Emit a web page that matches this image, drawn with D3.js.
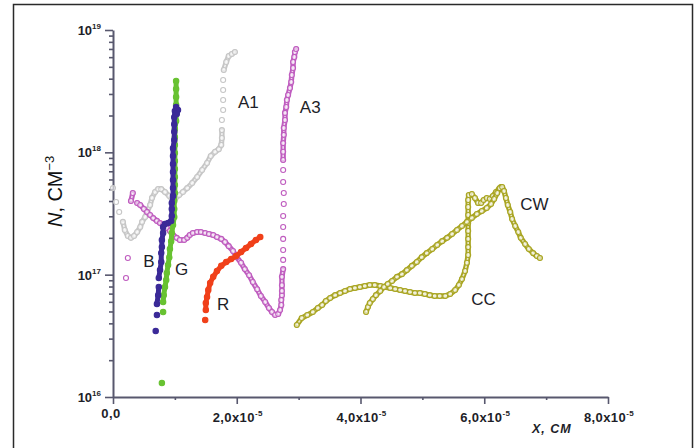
<!DOCTYPE html>
<html>
<head>
<meta charset="utf-8">
<script src="https://cdn.jsdelivr.net/npm/d3@7"></script>
<style>
  body { margin: 0; background: #fff; }
  svg { display: block; font-family: "Liberation Sans", Arial, sans-serif; }
</style>
</head>
<body>
<svg id="chart" width="696" height="448"></svg>
<script>
// x values are in units of 1e-5 cm, N in cm^-3
var X_UNIT = 1e-5;

var seriesA1 = [
  [0.00, 5.1e17], [0.05, 3.93e17], [0.10, 3.25e17], [0.16, 2.70e17], [0.19, 2.32e17],
  [0.24, 2.07e17], [0.29, 2.0e17], [0.34, 2.07e17], [0.39, 2.23e17], [0.44, 2.45e17],
  [0.47, 2.70e17], [0.52, 2.96e17], [0.55, 3.25e17], [0.60, 3.71e17], [0.63, 4.24e17],
  [0.68, 4.74e17], [0.73, 5.01e17], [0.78, 5.0e17], [0.84, 4.74e17], [0.91, 4.40e17],
  [0.95, 4.16e17], [1.00, 4.16e17], [1.07, 4.48e17], [1.13, 4.74e17], [1.20, 5.1e17],
  [1.28, 5.61e17], [1.36, 6.29e17], [1.44, 7.17e17], [1.52, 8.18e17], [1.58, 9.33e17],
  [1.65, 1.01e18], [1.71, 1.06e18], [1.75, 1.15e18], [1.76, 1.31e18], [1.76, 1.52e18],
  [1.76, 1.84e18], [1.78, 2.22e18], [1.78, 2.68e18], [1.78, 3.23e18], [1.78, 3.90e18],
  [1.79, 4.71e18], [1.83, 5.47e18], [1.87, 6.13e18], [1.92, 6.36e18], [1.97, 6.61e18]
];

var seriesA3 = [
  [0.21, 9.4e16], [0.24, 1.37e17], [0.29, 4.0e17], [0.32, 4.65e17], [0.39, 3.85e17],
  [0.44, 3.71e17], [0.50, 3.44e17], [0.55, 3.25e17], [0.60, 3.07e17], [0.65, 2.90e17],
  [0.71, 2.75e17], [0.76, 2.64e17], [0.81, 2.55e17], [0.87, 2.41e17], [0.92, 2.28e17],
  [0.97, 2.11e17], [1.03, 2.0e17], [1.08, 1.92e17], [1.15, 1.92e17], [1.20, 2.0e17],
  [1.24, 2.11e17], [1.29, 2.19e17], [1.36, 2.23e17], [1.42, 2.23e17], [1.49, 2.19e17],
  [1.55, 2.15e17], [1.62, 2.11e17], [1.68, 2.03e17], [1.75, 1.96e17], [1.81, 1.85e17],
  [1.87, 1.71e17], [1.94, 1.56e17], [2.00, 1.39e17], [2.07, 1.25e17], [2.13, 1.11e17],
  [2.20, 9.9e16], [2.26, 8.7e16], [2.33, 7.6e16], [2.39, 6.7e16], [2.46, 5.98e16],
  [2.52, 5.34e16], [2.57, 4.95e16], [2.62, 4.68e16], [2.67, 4.77e16], [2.70, 5.14e16],
  [2.72, 5.65e16], [2.72, 6.2e16], [2.73, 6.8e16], [2.73, 7.35e16], [2.73, 8.2e16],
  [2.73, 9.6e16], [2.75, 1.11e17], [2.75, 1.32e17], [2.75, 1.59e17], [2.75, 1.96e17],
  [2.75, 2.45e17], [2.75, 3.02e17], [2.76, 3.78e17], [2.76, 4.65e17], [2.75, 5.72e17],
  [2.75, 7.17e17], [2.75, 8.65e17], [2.75, 1.01e18], [2.75, 1.19e18], [2.76, 1.39e18],
  [2.76, 1.58e18], [2.78, 1.84e18], [2.78, 2.10e18], [2.80, 2.35e18], [2.81, 2.68e18],
  [2.83, 2.94e18], [2.86, 3.36e18], [2.88, 3.76e18], [2.89, 4.29e18], [2.91, 4.89e18],
  [2.91, 5.47e18], [2.93, 6.02e18], [2.94, 6.61e18], [2.96, 7.0e18]
];

var seriesB = [
  [0.69, 3.46e16], [0.71, 4.68e16], [0.71, 5.75e16], [0.73, 6.8e16], [0.74, 7.93e16],
  [0.74, 9.4e16], [0.76, 1.09e17], [0.78, 1.27e17], [0.78, 1.50e17], [0.79, 1.68e17],
  [0.79, 1.92e17], [0.81, 2.19e17], [0.81, 2.45e17], [0.84, 2.59e17], [0.89, 2.64e17],
  [0.94, 2.75e17], [0.95, 3.02e17], [0.95, 3.44e17], [0.95, 3.85e17], [0.97, 4.40e17],
  [0.97, 5.1e17], [0.97, 5.94e17], [0.97, 6.91e17], [0.97, 8.03e17], [0.97, 9.33e17],
  [0.97, 1.08e18], [0.99, 1.26e18], [0.99, 1.47e18], [0.99, 1.70e18], [0.99, 1.94e18],
  [1.00, 2.18e18], [1.02, 2.35e18], [1.05, 2.22e18], [1.03, 2.06e18]
];

var seriesG = [
  [0.79, 1.30e16], [0.81, 4.95e16], [0.81, 5.98e16], [0.82, 6.8e16], [0.84, 7.93e16],
  [0.86, 9.04e16], [0.87, 1.03e17], [0.89, 1.20e17], [0.91, 1.39e17], [0.92, 1.62e17],
  [0.94, 1.88e17], [0.95, 2.19e17], [0.97, 2.55e17], [0.99, 2.96e17], [0.99, 3.44e17],
  [0.99, 4.0e17], [1.00, 4.65e17], [1.00, 5.41e17], [1.00, 6.29e17], [1.00, 7.31e17],
  [1.00, 8.49e17], [1.00, 9.87e17], [1.00, 1.15e18], [1.00, 1.33e18], [1.00, 1.55e18],
  [1.02, 1.80e18], [1.02, 2.10e18], [1.02, 2.44e18], [1.02, 2.83e18], [1.02, 3.29e18],
  [1.02, 3.83e18]
];

var seriesR = [
  [1.49, 4.26e16], [1.50, 5.14e16], [1.50, 5.87e16], [1.52, 6.57e16], [1.54, 7.49e16],
  [1.57, 8.55e16], [1.62, 9.6e16], [1.68, 1.07e17], [1.75, 1.18e17], [1.83, 1.27e17],
  [1.91, 1.34e17], [1.99, 1.42e17], [2.07, 1.53e17], [2.15, 1.65e17], [2.23, 1.78e17],
  [2.31, 1.92e17], [2.38, 2.03e17]
];

var seriesCC = [
  [2.97, 3.88e16], [3.05, 4.42e16], [3.14, 4.68e16], [3.23, 4.95e16], [3.31, 5.34e16],
  [3.38, 5.65e16], [3.44, 6.09e16], [3.51, 6.45e16], [3.59, 6.8e16], [3.67, 7.08e16],
  [3.75, 7.35e16], [3.83, 7.64e16], [3.91, 7.78e16], [3.99, 7.93e16], [4.07, 8.08e16],
  [4.15, 8.23e16], [4.23, 8.23e16], [4.32, 8.08e16], [4.40, 7.93e16], [4.48, 7.78e16],
  [4.56, 7.64e16], [4.64, 7.49e16], [4.72, 7.35e16], [4.80, 7.21e16], [4.88, 7.08e16],
  [4.96, 7.08e16], [5.04, 6.95e16], [5.12, 6.8e16], [5.20, 6.69e16], [5.28, 6.69e16],
  [5.37, 6.69e16], [5.45, 6.95e16], [5.53, 7.49e16], [5.59, 8.23e16], [5.64, 9.2e16],
  [5.69, 1.07e17], [5.72, 1.25e17], [5.74, 1.45e17], [5.74, 1.68e17], [5.74, 1.96e17],
  [5.74, 2.28e17], [5.74, 2.64e17], [5.74, 3.07e17], [5.74, 3.57e17], [5.74, 4.08e17],
  [5.75, 4.48e17], [5.80, 4.56e17], [5.85, 4.23e17], [5.90, 3.85e17], [5.95, 3.85e17],
  [5.99, 4.08e17], [6.04, 4.23e17], [6.09, 4.16e17], [6.14, 4.40e17], [6.19, 4.74e17],
  [6.24, 5.01e17], [6.27, 5.21e17]
];

var seriesCW = [
  [4.09, 4.95e16], [4.12, 5.44e16], [4.15, 5.87e16], [4.20, 6.32e16], [4.25, 6.8e16],
  [4.32, 7.35e16], [4.38, 7.93e16], [4.44, 8.39e16], [4.51, 8.87e16], [4.59, 9.6e16],
  [4.67, 1.01e17], [4.75, 1.09e17], [4.83, 1.18e17], [4.91, 1.27e17], [4.99, 1.39e17],
  [5.07, 1.50e17], [5.16, 1.62e17], [5.24, 1.75e17], [5.32, 1.88e17], [5.40, 2.0e17],
  [5.48, 2.15e17], [5.56, 2.32e17], [5.64, 2.50e17], [5.72, 2.70e17], [5.80, 2.91e17],
  [5.88, 3.13e17], [5.96, 3.31e17], [6.04, 3.51e17], [6.11, 3.78e17], [6.16, 4.16e17],
  [6.21, 4.65e17], [6.25, 5.1e17], [6.29, 5.21e17], [6.32, 4.83e17], [6.35, 4.23e17],
  [6.38, 3.71e17], [6.42, 3.25e17], [6.45, 2.85e17], [6.50, 2.50e17], [6.55, 2.23e17],
  [6.59, 2.0e17], [6.66, 1.78e17], [6.72, 1.62e17], [6.79, 1.50e17], [6.85, 1.42e17],
  [6.90, 1.37e17]
];

// curve name labels, placed in data coordinates
var labelNames = ["A1", "A3", "B", "G", "R", "CC", "CW"];
var labelX = [2.02, 3.02, 0.49, 1.00, 1.68, 5.79, 6.58];
var labelN = [2.3e18, 2.1e18, 1.16e17, 9.9e16, 5.14e16, 5.65e16, 3.38e17];

var xTickValues = [0, 2, 4, 6, 8];
var xMinorValues = [1, 3, 5, 7];
var yDecades = [16, 17, 18, 19];

var svg = d3.select("#chart");

var x = d3.scaleLinear().domain([0, 8 * X_UNIT]).range([113, 608]);
var y = d3.scaleLog().domain([1e16, 1e19]).range([397, 30]);

var axisColor = "#58586e";
var textColor = "#1e1e28";

// outer frame
svg.append("rect")
    .attr("x", 13.5).attr("y", 4.5)
    .attr("width", 679).attr("height", 470)
    .attr("fill", "none")
    .attr("stroke", "#2a2a2a")
    .attr("stroke-width", 1.5);

// ---- axes
function styleAxis(g) {
    g.selectAll("path, line").attr("stroke", axisColor).attr("stroke-width", 1.6);
    g.selectAll("text").remove();
}

var isMajor = function(v) {
    var l = Math.log10(v);
    return Math.abs(l - Math.round(l)) < 1e-9;
};

svg.append("g")
    .attr("transform", "translate(113,0)")
    .call(d3.axisLeft(y).tickValues(y.ticks().filter(function(v) { return !isMajor(v); }))
        .tickSize(4).tickSizeOuter(0).tickFormat(""))
    .call(styleAxis)
    .select(".domain").attr("stroke-width", 2);

svg.append("g")
    .attr("transform", "translate(113,0)")
    .call(d3.axisLeft(y).tickValues(yDecades.map(function(e) { return Math.pow(10, e); }))
        .tickSize(8).tickFormat(""))
    .call(styleAxis)
    .select(".domain").remove();

svg.append("g")
    .attr("transform", "translate(0,397)")
    .call(d3.axisBottom(x).tickValues(xMinorValues.map(function(v) { return v * X_UNIT; }))
        .tickSize(3).tickSizeOuter(0).tickFormat(""))
    .call(styleAxis)
    .select(".domain").attr("stroke-width", 2);

svg.append("g")
    .attr("transform", "translate(0,397)")
    .call(d3.axisBottom(x).tickValues(xTickValues.map(function(v) { return v * X_UNIT; }))
        .tickSize(7).tickFormat(""))
    .call(styleAxis)
    .select(".domain").remove();

// y tick labels 10^n
yDecades.forEach(function(e) {
    var t = svg.append("text")
        .attr("x", 101)
        .attr("y", y(Math.pow(10, e)) + 5)
        .attr("text-anchor", "end")
        .attr("font-size", 13)
        .attr("font-weight", "bold")
        .attr("fill", textColor);
    t.append("tspan").text("10");
    t.append("tspan").attr("dy", -6).attr("font-size", 8).text(e);
});

// x tick labels
xTickValues.forEach(function(v) {
    var t = svg.append("text")
        .attr("x", x(v * X_UNIT) + (v === 0 ? -2 : 1))
        .attr("y", v === 0 ? 418 : 422)
        .attr("text-anchor", "middle")
        .attr("font-size", 13)
        .attr("font-weight", "bold")
        .attr("letter-spacing", 0.4)
        .attr("fill", textColor);
    t.append("tspan").text(v.toFixed(1).replace(".", ",") + (v === 0 ? "" : "x10"));
    if (v !== 0) t.append("tspan").attr("dy", -6).attr("font-size", 8).text("-5");
});

// axis titles
svg.append("text")
    .attr("x", 532).attr("y", 433)
    .attr("font-size", 12.5)
    .attr("font-style", "italic")
    .attr("font-weight", "bold")
    .attr("letter-spacing", 1)
    .attr("fill", textColor)
    .text("X, СМ");

var yt = svg.append("text")
    .attr("transform", "translate(62,227) rotate(-90)")
    .attr("font-size", 20)
    .attr("fill", "#111");
yt.append("tspan").attr("font-style", "italic").text("N");
yt.append("tspan").text(", СМ");
yt.append("tspan").attr("dy", -8).attr("font-size", 13).text("−3");

// ---- series
var lineGen = d3.line();

function chainRuns(pts, gap) {
    var out = [], cur = [pts[0]];
    for (var i = 1; i < pts.length; i++) {
        var dx = pts[i][0] - pts[i - 1][0], dy = pts[i][1] - pts[i - 1][1];
        if (Math.sqrt(dx * dx + dy * dy) <= gap) cur.push(pts[i]);
        else { out.push(cur); cur = [pts[i]]; }
    }
    out.push(cur);
    return out.filter(function(r) { return r.length > 1; });
}

function drawSeries(data, color, filled) {
    var g = svg.append("g");
    var pts = data.map(function(d) { return [x(d[0] * X_UNIT), y(d[1])]; });
    var runs = chainRuns(pts, 9);

    g.selectAll("path.chain").data(runs).enter().append("path")
        .attr("d", lineGen)
        .attr("fill", "none")
        .attr("stroke", color)
        .attr("stroke-width", filled ? 5 : 5.4)
        .attr("stroke-linejoin", "round")
        .attr("stroke-linecap", "round");

    if (!filled) {
        g.selectAll("path.inner").data(runs).enter().append("path")
            .attr("d", lineGen)
            .attr("fill", "none")
            .attr("stroke", "#fff")
            .attr("stroke-opacity", 0.75)
            .attr("stroke-width", 1.6)
            .attr("stroke-linejoin", "round");
    }

    g.selectAll("circle").data(pts).enter().append("circle")
        .attr("cx", function(p) { return p[0]; })
        .attr("cy", function(p) { return p[1]; })
        .attr("r", filled ? 2.7 : 2.5)
        .attr("fill", filled ? color : "#fff")
        .attr("fill-opacity", filled ? 1 : 0.6)
        .attr("stroke", color)
        .attr("stroke-width", 1.1);
}

drawSeries(seriesA1, "#c6c6c6", false);
drawSeries(seriesA3, "#bf5cbf", false);
drawSeries(seriesCC, "#a9a522", false);
drawSeries(seriesCW, "#a9a522", false);
drawSeries(seriesR, "#f0401a", true);
drawSeries(seriesG, "#68c232", true);
drawSeries(seriesB, "#3b2a98", true);

// curve labels
labelNames.forEach(function(name, i) {
    svg.append("text")
        .attr("x", x(labelX[i] * X_UNIT))
        .attr("y", y(labelN[i]))
        .attr("font-size", 17)
        .attr("fill", textColor)
        .text(name);
});
</script>
</body>
</html>
